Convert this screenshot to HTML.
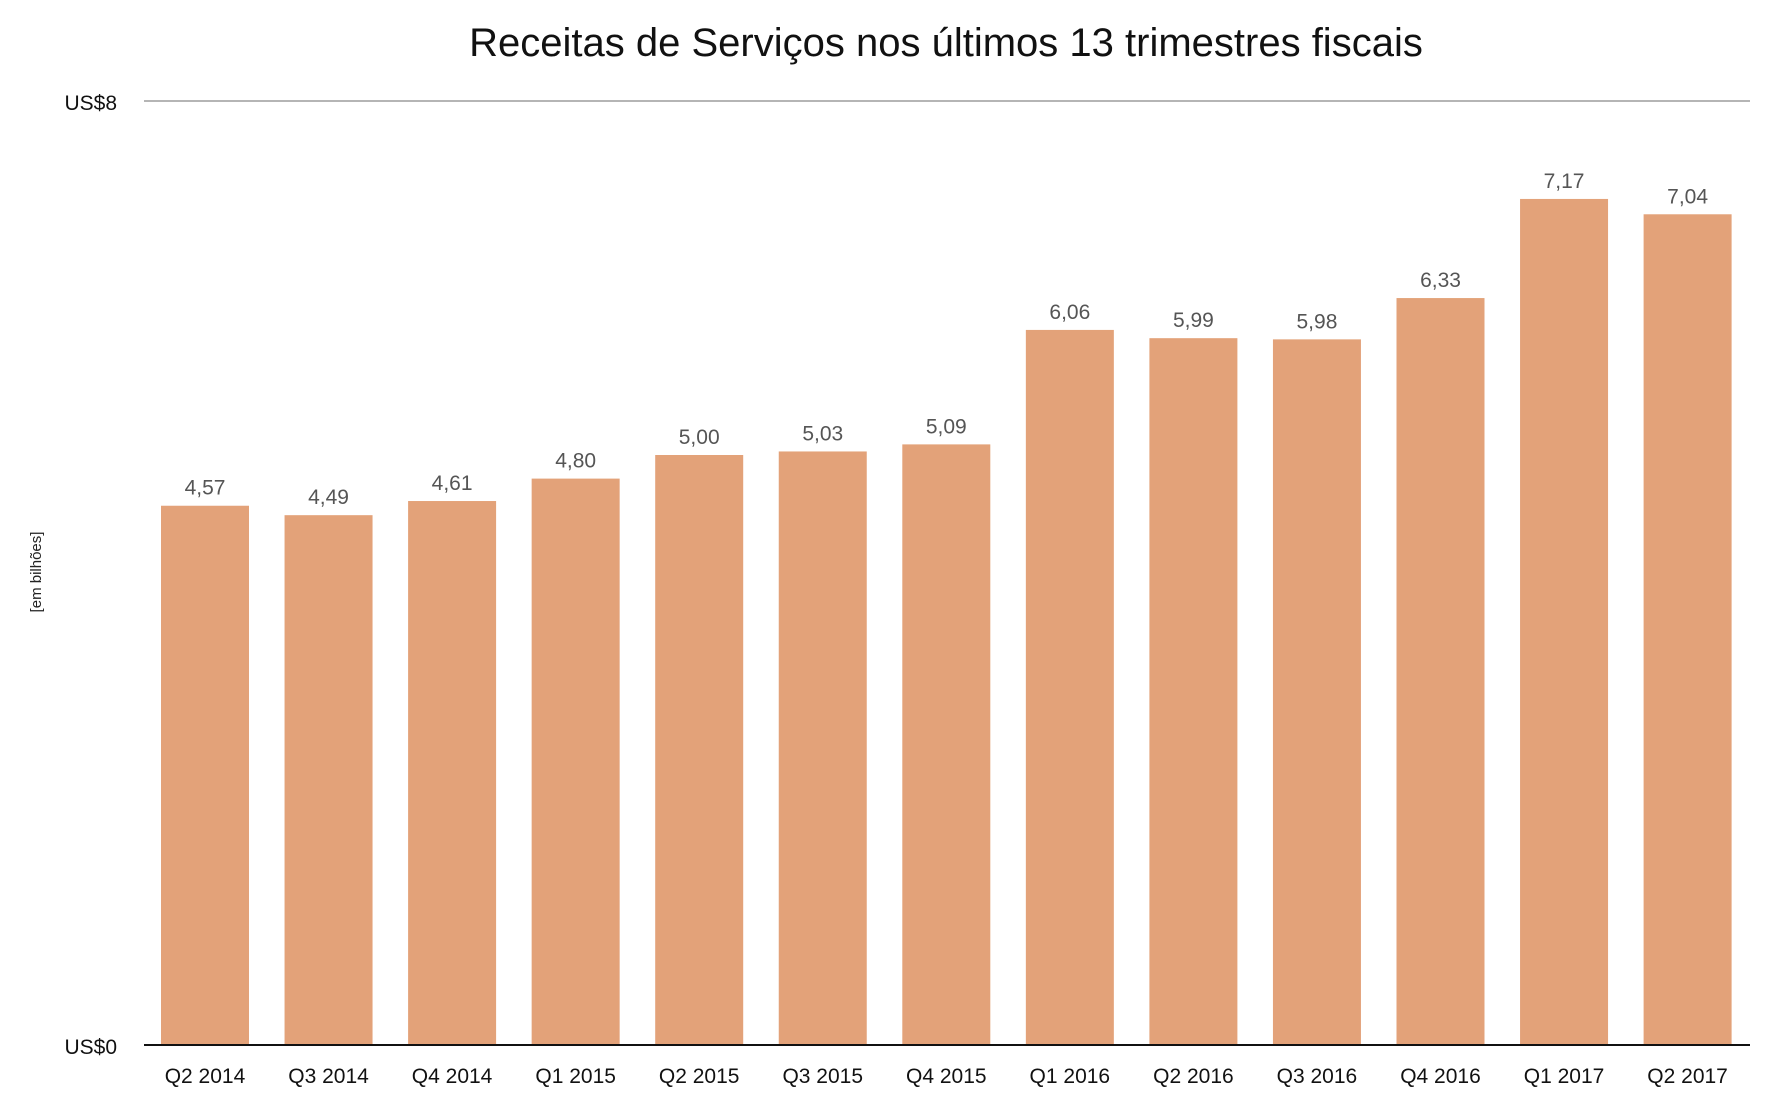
<!DOCTYPE html>
<html><head><meta charset="utf-8"><style>
html,body{margin:0;padding:0;background:#fff;}
svg{display:block;font-family:"Liberation Sans",sans-serif;}
</style></head><body>
<svg id="chart" width="1767" height="1108" viewBox="0 0 1767 1108" xmlns="http://www.w3.org/2000/svg">
<text x="946" y="56" text-anchor="middle" font-size="40" fill="#111">Receitas de Serviços nos últimos 13 trimestres fiscais</text>
<text transform="translate(41,572) rotate(-90)" text-anchor="middle" font-size="15" fill="#222">[em bilhões]</text>
<g id="grid"></g><g id="bars"></g><g id="labels"></g>
</svg>
<script>
const categories=["Q2 2014","Q3 2014","Q4 2014","Q1 2015","Q2 2015","Q3 2015","Q4 2015","Q1 2016","Q2 2016","Q3 2016","Q4 2016","Q1 2017","Q2 2017"];
const values=[4.57,4.49,4.61,4.80,5.00,5.03,5.09,6.06,5.99,5.98,6.33,7.17,7.04];
const yTicks=[0,8];
const yTickLabels=["US$0","US$8"];
const NS="http://www.w3.org/2000/svg";
const x0=144,x1=1750,y0=1045,y1=101,yMax=8;
const step=123.55,barW=88,firstLeft=161;
function yScale(v){return y0-(v/yMax)*(y0-y1);}
function xScale(i){return firstLeft+i*step;}
function mk(t,a,p){const e=document.createElementNS(NS,t);for(const k in a)e.setAttribute(k,a[k]);p.appendChild(e);return e;}
const grid=document.getElementById('grid'),bars=document.getElementById('bars'),labels=document.getElementById('labels');
yTicks.forEach((t,i)=>{
  const y=yScale(t);
  if(t>0){const l=mk('line',{x1:x0,x2:x1,y1:y,y2:y,stroke:'#b5b5b5','stroke-width':2},grid);
  
  }
  const tx=mk('text',{x:117,y:y+9,'text-anchor':'end','font-size':21,fill:'#111'},grid);
  tx.textContent=yTickLabels[i];
  
  
});
values.forEach((v,i)=>{
  const x=xScale(i),y=yScale(v);
  const r=mk('rect',{x:x,y:y,width:barW,height:y0-y,fill:'#e3a279'},bars);
  
  
  const vl=mk('text',{x:x+barW/2,y:y-11,'text-anchor':'middle','font-size':21,fill:'#555'},labels);
  vl.textContent=v.toFixed(2).replace('.',',');
  
  
  const cl=mk('text',{x:x+barW/2,y:1083,'text-anchor':'middle','font-size':21,fill:'#111'},labels);
  cl.textContent=categories[i];
  
  
});
const ax=mk('line',{x1:x0,x2:x1,y1:y0,y2:y0,stroke:'#111','stroke-width':2},labels);


</script>
</body></html>
